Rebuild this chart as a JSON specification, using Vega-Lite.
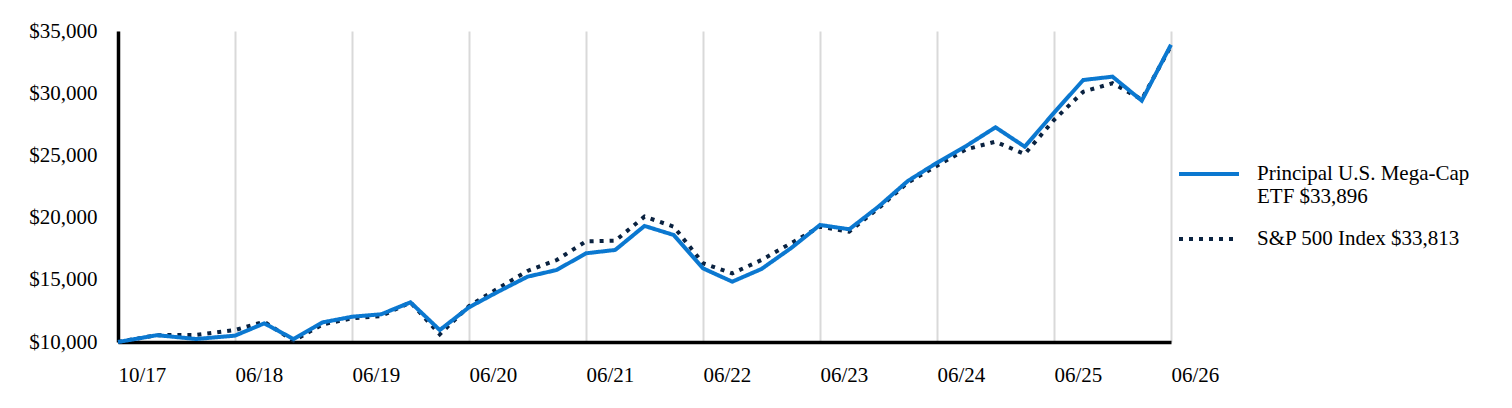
{
  "$schema": "https://vega.github.io/schema/vega-lite/v6.json",
  "width": 1053,
  "height": 311,
  "autosize": "none",
  "padding": {"left": 118, "top": 31, "right": 341, "bottom": 66},
  "background": "white",
  "data": {
    "values": [
      {"period": "10/17", "t": 0, "etf": 10000, "sp": 10000},
      {"period": "12/17", "t": 0.3333, "etf": 10550, "sp": 10550},
      {"period": "03/18", "t": 0.6667, "etf": 10240, "sp": 10560},
      {"period": "06/18", "t": 1, "etf": 10510, "sp": 10960},
      {"period": "09/18", "t": 1.25, "etf": 11500, "sp": 11630},
      {"period": "12/18", "t": 1.5, "etf": 10240, "sp": 10100},
      {"period": "03/19", "t": 1.75, "etf": 11580, "sp": 11420},
      {"period": "06/19", "t": 2, "etf": 12030, "sp": 11900},
      {"period": "09/19", "t": 2.25, "etf": 12230, "sp": 12090},
      {"period": "12/19", "t": 2.5, "etf": 13190, "sp": 13190},
      {"period": "03/20", "t": 2.75, "etf": 10960, "sp": 10620},
      {"period": "06/20", "t": 3, "etf": 12790, "sp": 12890},
      {"period": "09/20", "t": 3.25, "etf": 14050, "sp": 14320},
      {"period": "12/20", "t": 3.5, "etf": 15250, "sp": 15710},
      {"period": "03/21", "t": 3.75, "etf": 15790, "sp": 16590},
      {"period": "06/21", "t": 4, "etf": 17130, "sp": 18090},
      {"period": "09/21", "t": 4.25, "etf": 17400, "sp": 18140},
      {"period": "12/21", "t": 4.5, "etf": 19330, "sp": 20080},
      {"period": "03/22", "t": 4.75, "etf": 18600, "sp": 19270},
      {"period": "06/22", "t": 5, "etf": 15920, "sp": 16330},
      {"period": "09/22", "t": 5.25, "etf": 14850, "sp": 15520},
      {"period": "12/22", "t": 5.5, "etf": 15870, "sp": 16590},
      {"period": "03/23", "t": 5.75, "etf": 17530, "sp": 17930},
      {"period": "06/23", "t": 6, "etf": 19410, "sp": 19270},
      {"period": "09/23", "t": 6.25, "etf": 19060, "sp": 18870},
      {"period": "12/23", "t": 6.5, "etf": 20880, "sp": 20750},
      {"period": "03/24", "t": 6.75, "etf": 22940, "sp": 22810},
      {"period": "06/24", "t": 7, "etf": 24410, "sp": 24170},
      {"period": "09/24", "t": 7.25, "etf": 25760, "sp": 25490},
      {"period": "12/24", "t": 7.5, "etf": 27260, "sp": 26100},
      {"period": "03/25", "t": 7.75, "etf": 25700, "sp": 25110},
      {"period": "06/25", "t": 8, "etf": 28430, "sp": 27850},
      {"period": "09/25", "t": 8.25, "etf": 31060, "sp": 30120},
      {"period": "12/25", "t": 8.5, "etf": 31330, "sp": 30800},
      {"period": "03/26", "t": 8.75, "etf": 29400, "sp": 29500},
      {"period": "06/26", "t": 9, "etf": 33896, "sp": 33813}
    ]
  },
  "transform": [{"fold": ["etf", "sp"], "as": ["series", "value"]}],
  "encoding": {
    "x": {
      "field": "t",
      "type": "quantitative",
      "scale": {"domain": [0, 9], "nice": false, "zero": false},
      "axis": {
        "title": null,
        "values": [0, 1, 2, 3, 4, 5, 6, 7, 8, 9],
        "labelExpr": "datum.value == 0 ? '10/17' : '06/' + (17 + datum.value)",
        "grid": true,
        "gridColor": "#D9D9D9",
        "gridWidth": 2,
        "ticks": false,
        "domainColor": "black",
        "domainWidth": 3.5,
        "labelAlign": "left",
        "labelBaseline": "top",
        "labelPadding": 22,
        "labelFontSize": 21,
        "labelColor": "black",
        "labelFont": "Liberation Serif"
      }
    },
    "y": {
      "field": "value",
      "type": "quantitative",
      "scale": {"domain": [10000, 35000], "nice": false, "zero": false},
      "axis": {
        "title": null,
        "values": [10000, 15000, 20000, 25000, 30000, 35000],
        "format": "$,.0f",
        "grid": false,
        "ticks": false,
        "domainColor": "black",
        "domainWidth": 3.5,
        "labelPadding": 21,
        "labelFontSize": 21,
        "labelColor": "black",
        "labelFont": "Liberation Serif"
      }
    },
    "color": {
      "field": "series",
      "type": "nominal",
      "scale": {"domain": ["etf", "sp"], "range": ["#0B78D0", "#0A2240"]},
      "legend": {
        "title": null,
        "orient": "none",
        "legendX": 1059,
        "legendY": 111,
        "padding": 0,
        "symbolType": "stroke",
        "symbolSize": 3600,
        "symbolStrokeWidth": 4,
        "labelOffset": 16,
        "labelFontSize": 21,
        "labelFont": "Liberation Serif",
        "labelColor": "black",
        "labelLimit": 400,
        "rowPadding": -17,
        "labelExpr": "datum.label == 'etf' ? ['Principal U.S. Mega-Cap', 'ETF $33,896'] : 'S&P 500 Index $33,813'"
      }
    },
    "strokeDash": {
      "field": "series",
      "type": "nominal",
      "scale": {"domain": ["etf", "sp"], "range": [[1, 0], [4, 6]]},
      "legend": {
        "title": null,
        "orient": "none",
        "legendX": 1059,
        "legendY": 111,
        "padding": 0,
        "symbolType": "stroke",
        "symbolSize": 3600,
        "symbolStrokeWidth": 4,
        "labelOffset": 16,
        "labelFontSize": 21,
        "labelFont": "Liberation Serif",
        "labelColor": "black",
        "labelLimit": 400,
        "rowPadding": -17,
        "labelExpr": "datum.label == 'etf' ? ['Principal U.S. Mega-Cap', 'ETF $33,896'] : 'S&P 500 Index $33,813'"
      }
    }
  },
  "layer": [
    {
      "transform": [{"filter": "datum.series == 'sp'"}],
      "mark": {"type": "line", "strokeWidth": 4}
    },
    {
      "transform": [{"filter": "datum.series == 'etf'"}],
      "mark": {"type": "line", "strokeWidth": 4}
    }
  ],
  "config": {
    "view": {"stroke": null},
    "font": "Liberation Serif"
  }
}
